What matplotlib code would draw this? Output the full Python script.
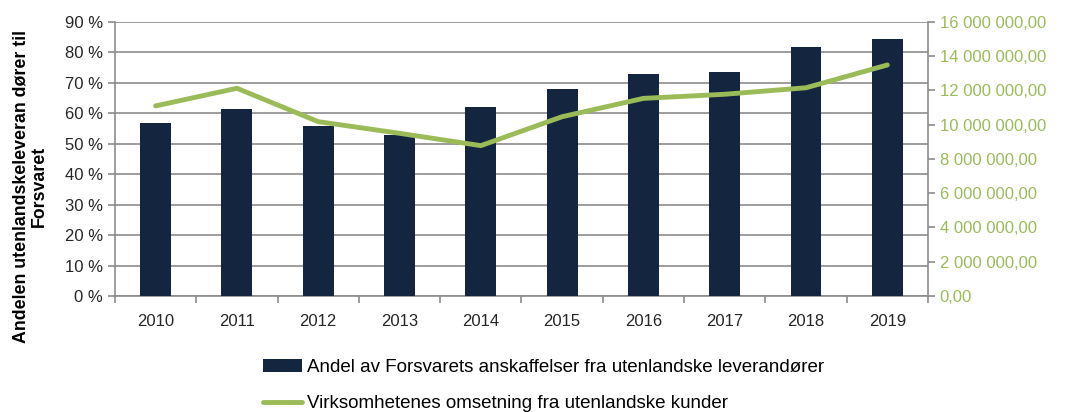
import matplotlib.pyplot as plt
import numpy as np
from matplotlib.ticker import FuncFormatter

years = ['2010', '2011', '2012', '2013', '2014', '2015', '2016', '2017', '2018', '2019']
andel_pct = [56.9, 61.4, 55.9, 53.0, 62.0, 68.0, 72.9, 73.6, 81.7, 84.3]
omsetning = [11.1e6, 12.13e6, 10.18e6, 9.5e6, 8.78e6, 10.47e6, 11.54e6, 11.78e6, 12.16e6, 13.49e6]

bar_label = 'Andel av Forsvarets anskaffelser fra utenlandske leverandører'
line_label = 'Virksomhetenes omsetning fra utenlandske kunder'

NAVY = '#14253F'
GREEN = '#9BBB59'
GRID = '#8C8C8C'

plt.rcParams['font.family'] = ['Liberation Sans', 'DejaVu Sans']

fig = plt.figure(figsize=(10.92, 4.12), dpi=100)
ax = fig.add_axes([0.1053, 0.2816, 0.7445, 0.665])
x = np.arange(len(years))

bars = ax.bar(x, andel_pct, width=0.38, color=NAVY, zorder=3, label=bar_label)
ax.set_xlim(-0.5, len(years) - 0.5)
ax.set_ylim(0, 90)
ax.set_yticks(np.arange(0, 91, 10))
ax.yaxis.set_major_formatter(FuncFormatter(lambda v, p: f'{v:.0f} %'))
ax.grid(axis='y', color=GRID, linewidth=1.2, zorder=0)
ax.set_xticks(x)
ax.set_xticklabels(years)
ax.set_xticks(np.arange(-0.5, len(years)), minor=True)
ax.tick_params(axis='x', which='major', length=0, pad=13, labelsize=12, colors='#262626')
ax.tick_params(axis='x', which='minor', length=5, color=GRID, width=1.2)
ax.tick_params(axis='y', length=5, color=GRID, width=1.2, labelsize=12, labelcolor='#262626')
for s in ['top', 'right']:
    ax.spines[s].set_visible(False)
for s in ['left', 'bottom']:
    ax.spines[s].set_color(GRID)
    ax.spines[s].set_linewidth(1.2)
ax.set_ylabel('Andelen utenlandskeleveran dører til\nForsvaret', fontsize=12.8,
              fontweight='bold', linespacing=1.05)
ax.yaxis.set_label_coords(-0.083, 0.40)

ax2 = ax.twinx()
line, = ax2.plot(x, omsetning, color=GREEN, linewidth=3.5, solid_capstyle='round',
                 zorder=4, label=line_label)
ax2.set_ylim(0, 16e6)
ax2.set_yticks(np.arange(0, 16.1e6, 2e6))
ax2.yaxis.set_major_formatter(FuncFormatter(
    lambda v, p: '0,00' if v == 0 else f'{v:,.0f}'.replace(',', ' ') + ',00'))
ax2.tick_params(axis='y', length=5, color=GRID, width=1.2, labelsize=12, labelcolor=GREEN)
for s in ['top', 'left', 'bottom']:
    ax2.spines[s].set_visible(False)
ax2.spines['right'].set_color(GRID)
ax2.spines['right'].set_linewidth(1.2)

fig.legend(handles=[bars, line], labels=[bar_label, line_label], loc='upper left',
           bbox_to_anchor=(0.232, 0.152), frameon=False, fontsize=13.5,
           handlelength=2.1, handletextpad=0.27, labelspacing=1.02, borderpad=0)

fig.savefig('out.png', dpi=100, facecolor='white')
